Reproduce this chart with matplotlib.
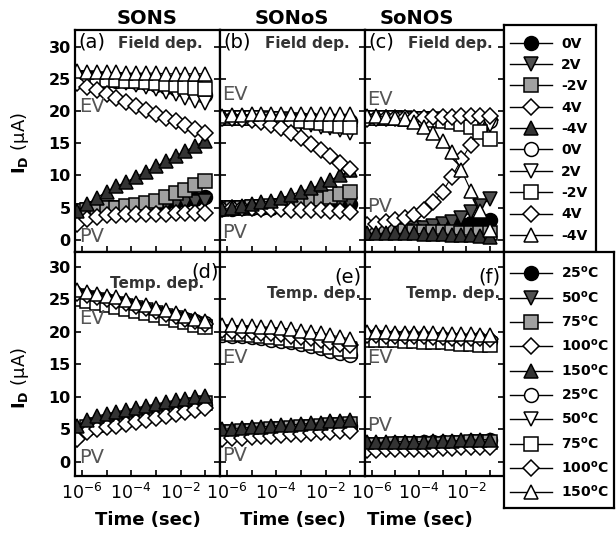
import numpy as np
import matplotlib
matplotlib.use('Agg')
import matplotlib.pyplot as plt
from matplotlib.lines import Line2D

# time points (log10 of seconds)
t_exp = [-6.2, -5.8, -5.4, -5.0, -4.6, -4.2, -3.8, -3.4, -3.0, -2.6, -2.2, -1.8, -1.4, -1.0]

# (a) SONS, field dependence
a_pv_0v = [4.5, 4.7, 4.8, 5.0, 5.0, 5.1, 5.2, 5.4, 5.6, 5.8, 6.0, 6.2, 6.4, 6.6]
a_pv_2v = [4.5, 4.6, 4.8, 4.9, 5.0, 5.0, 5.1, 5.2, 5.3, 5.4, 5.6, 5.7, 5.9, 6.0]
a_pv_m2v = [4.5, 4.6, 4.8, 4.9, 5.0, 5.2, 5.4, 5.7, 6.1, 6.6, 7.2, 7.8, 8.5, 9.2]
a_pv_4v = [2.5, 3.3, 3.6, 3.8, 3.9, 4.0, 4.0, 4.0, 4.0, 4.0, 4.1, 4.1, 4.1, 4.2]
a_pv_m4v = [4.5, 5.5, 6.5, 7.5, 8.3, 9.0, 9.8, 10.6, 11.4, 12.2, 13.0, 13.8, 14.6, 15.4]
a_ev_0v = [25.0, 25.0, 24.9, 24.8, 24.7, 24.6, 24.5, 24.3, 24.1, 23.8, 23.5, 23.2, 22.9, 22.5]
a_ev_2v = [25.2, 25.1, 25.0, 24.8, 24.6, 24.4, 24.1, 23.8, 23.4, 23.0, 22.6, 22.1, 21.6, 21.2]
a_ev_m2v = [25.0, 25.0, 24.9, 24.9, 24.8, 24.7, 24.6, 24.5, 24.4, 24.2, 24.0, 23.8, 23.6, 23.4]
a_ev_4v = [24.3, 23.8, 23.2, 22.6, 22.0, 21.4, 20.8, 20.2, 19.6, 19.0, 18.4, 17.8, 17.2, 16.6]
a_ev_m4v = [26.2, 26.1, 26.0, 26.0, 26.0, 25.9, 25.9, 25.9, 25.9, 25.8, 25.8, 25.8, 25.8, 25.8]

# (b) SONoS, field dependence
b_pv_0v = [4.8, 4.8, 4.9, 4.9, 5.0, 5.0, 5.1, 5.1, 5.2, 5.2, 5.3, 5.3, 5.4, 5.5]
b_pv_2v = [5.0, 5.0, 5.0, 5.1, 5.1, 5.1, 5.2, 5.2, 5.3, 5.3, 5.4, 5.4, 5.5, 5.5]
b_pv_m2v = [4.9, 5.0, 5.0, 5.1, 5.1, 5.2, 5.3, 5.5, 5.7, 6.0, 6.3, 6.7, 7.1, 7.5]
b_pv_4v = [4.8, 4.9, 4.9, 4.9, 4.8, 4.8, 4.8, 4.7, 4.7, 4.6, 4.6, 4.5, 4.4, 4.3]
b_pv_m4v = [4.8, 5.0, 5.2, 5.5, 5.8, 6.1, 6.5, 7.0, 7.5, 8.0, 8.6, 9.3, 10.0, 10.8]
b_ev_0v = [19.0, 19.0, 19.0, 18.9, 18.9, 18.9, 18.8, 18.8, 18.7, 18.7, 18.6, 18.6, 18.5, 18.5]
b_ev_2v = [19.0, 19.0, 18.9, 18.9, 18.8, 18.7, 18.6, 18.4, 18.2, 17.9, 17.6, 17.3, 17.0, 16.6]
b_ev_m2v = [19.0, 19.0, 19.0, 18.9, 18.9, 18.8, 18.7, 18.6, 18.5, 18.3, 18.1, 17.9, 17.7, 17.5]
b_ev_4v = [19.0, 18.9, 18.8, 18.6, 18.3, 17.9, 17.3, 16.6, 15.8, 14.9, 14.0, 13.0, 12.0, 11.0]
b_ev_m4v = [19.3, 19.4, 19.4, 19.5, 19.5, 19.5, 19.5, 19.5, 19.5, 19.5, 19.5, 19.5, 19.5, 19.5]

# (c) SoNOS, field dependence
c_pv_0v = [1.6, 1.6, 1.7, 1.7, 1.8, 1.8, 1.9, 2.0, 2.1, 2.2, 2.4, 2.6, 2.8, 3.0]
c_pv_2v = [1.5, 1.5, 1.6, 1.6, 1.7, 1.8, 1.9, 2.1, 2.4, 2.8, 3.4, 4.3, 5.3, 6.3]
c_pv_m2v = [1.3, 1.3, 1.3, 1.3, 1.3, 1.2, 1.2, 1.2, 1.2, 1.2, 1.1, 1.1, 1.1, 1.0]
c_pv_4v = [2.3, 2.5, 2.7, 3.0, 3.4, 3.9, 4.7, 5.8, 7.5, 9.8, 12.5, 14.8, 17.0, 18.6]
c_pv_m4v = [1.0, 1.0, 1.0, 1.0, 1.0, 1.0, 0.9, 0.9, 0.9, 0.8, 0.8, 0.7, 0.6, 0.5]
c_ev_0v = [19.0, 19.0, 19.0, 19.0, 18.9, 18.9, 18.9, 18.8, 18.8, 18.7, 18.7, 18.6, 18.6, 18.5]
c_ev_2v = [19.0, 19.0, 18.9, 18.9, 18.9, 18.8, 18.8, 18.7, 18.6, 18.5, 18.4, 18.2, 18.0, 17.8]
c_ev_m2v = [19.0, 19.0, 18.9, 18.9, 18.8, 18.8, 18.7, 18.6, 18.5, 18.3, 18.0, 17.5, 16.7, 15.6]
c_ev_4v = [18.8, 18.9, 18.9, 18.9, 19.0, 19.0, 19.0, 19.1, 19.1, 19.1, 19.2, 19.2, 19.3, 19.3]
c_ev_m4v = [19.2, 19.2, 19.1, 19.0, 18.8, 18.3, 17.6, 16.6, 15.3, 13.6, 10.8, 7.6, 4.4, 1.5]

# (d) SONS, temperature dependence
d_pv_25 = [4.0, 5.0, 5.5, 5.8, 6.0, 6.3, 6.6, 6.9, 7.2, 7.5, 7.8, 8.1, 8.4, 8.7]
d_pv_50 = [3.3, 4.5, 5.0, 5.3, 5.6, 5.9, 6.2, 6.5, 6.8, 7.1, 7.4, 7.7, 8.0, 8.4]
d_pv_75 = [4.5, 5.3, 5.7, 6.0, 6.3, 6.6, 6.9, 7.2, 7.5, 7.8, 8.1, 8.5, 8.8, 9.1]
d_pv_100 = [3.5, 4.5, 5.0, 5.3, 5.5, 5.8, 6.1, 6.4, 6.7, 7.0, 7.3, 7.6, 7.9, 8.3]
d_pv_150 = [5.5, 6.5, 7.0, 7.4, 7.7, 8.0, 8.3, 8.6, 8.9, 9.2, 9.5, 9.7, 9.9, 10.1]
d_ev_25 = [25.3, 25.0, 24.8, 24.5, 24.2, 23.9, 23.6, 23.3, 23.0, 22.6, 22.3, 22.0, 21.6, 21.3]
d_ev_50 = [25.5, 25.2, 24.9, 24.6, 24.3, 24.0, 23.7, 23.3, 22.9, 22.5, 22.1, 21.6, 21.2, 20.7]
d_ev_75 = [25.0, 24.7, 24.4, 24.1, 23.8, 23.5, 23.2, 22.9, 22.6, 22.2, 21.9, 21.5, 21.1, 20.8]
d_ev_100 = [26.0, 25.7, 25.4, 25.1, 24.8, 24.4, 24.0, 23.6, 23.2, 22.8, 22.4, 22.0, 21.6, 21.2]
d_ev_150 = [26.5, 26.2, 25.9, 25.6, 25.3, 24.9, 24.5, 24.1, 23.7, 23.3, 22.9, 22.5, 22.0, 21.6]

# (e) SONoS, temperature dependence
e_pv_25 = [4.2, 4.3, 4.4, 4.5, 4.6, 4.7, 4.8, 4.9, 5.0, 5.1, 5.2, 5.3, 5.4, 5.5]
e_pv_50 = [3.8, 3.9, 4.0, 4.1, 4.2, 4.3, 4.4, 4.5, 4.6, 4.7, 4.8, 4.9, 5.0, 5.1]
e_pv_75 = [4.5, 4.6, 4.7, 4.8, 4.9, 5.0, 5.1, 5.2, 5.3, 5.4, 5.5, 5.6, 5.7, 5.8]
e_pv_100 = [3.5, 3.6, 3.7, 3.8, 3.9, 4.0, 4.1, 4.2, 4.3, 4.4, 4.5, 4.6, 4.7, 4.8]
e_pv_150 = [5.0, 5.1, 5.2, 5.3, 5.4, 5.5, 5.6, 5.7, 5.8, 5.9, 6.0, 6.2, 6.3, 6.5]
e_ev_25 = [19.5, 19.4, 19.3, 19.2, 19.0, 18.8, 18.6, 18.4, 18.1, 17.8, 17.5, 17.1, 16.8, 16.4]
e_ev_50 = [20.0, 19.9, 19.8, 19.7, 19.5, 19.3, 19.1, 18.9, 18.7, 18.5, 18.2, 17.9, 17.6, 17.3]
e_ev_75 = [19.8, 19.7, 19.6, 19.5, 19.4, 19.2, 19.0, 18.8, 18.6, 18.3, 18.0, 17.7, 17.4, 17.1]
e_ev_100 = [20.3, 20.2, 20.1, 20.0, 19.9, 19.8, 19.6, 19.4, 19.2, 19.0, 18.8, 18.5, 18.2, 17.9]
e_ev_150 = [21.0, 21.0, 20.9, 20.9, 20.8, 20.7, 20.6, 20.4, 20.2, 20.0, 19.8, 19.5, 19.2, 18.9]

# (f) SoNOS, temperature dependence
f_pv_25 = [2.8, 2.8, 2.8, 2.9, 2.9, 2.9, 3.0, 3.0, 3.0, 3.1, 3.1, 3.2, 3.2, 3.3]
f_pv_50 = [2.3, 2.3, 2.4, 2.4, 2.4, 2.5, 2.5, 2.5, 2.6, 2.6, 2.7, 2.7, 2.8, 2.8]
f_pv_75 = [2.6, 2.6, 2.6, 2.7, 2.7, 2.7, 2.8, 2.8, 2.8, 2.9, 2.9, 3.0, 3.0, 3.0]
f_pv_100 = [1.8, 1.8, 1.9, 1.9, 1.9, 2.0, 2.0, 2.0, 2.1, 2.1, 2.2, 2.2, 2.3, 2.3]
f_pv_150 = [3.0, 3.0, 3.0, 3.1, 3.1, 3.1, 3.1, 3.2, 3.2, 3.2, 3.3, 3.3, 3.4, 3.4]
f_ev_25 = [19.2, 19.2, 19.1, 19.1, 19.0, 19.0, 18.9, 18.9, 18.8, 18.8, 18.7, 18.7, 18.6, 18.6]
f_ev_50 = [19.0, 19.0, 18.9, 18.9, 18.8, 18.8, 18.7, 18.7, 18.6, 18.5, 18.5, 18.4, 18.3, 18.2]
f_ev_75 = [18.8, 18.8, 18.7, 18.7, 18.6, 18.6, 18.5, 18.5, 18.4, 18.3, 18.2, 18.1, 18.0, 17.9]
f_ev_100 = [19.5, 19.5, 19.4, 19.4, 19.4, 19.3, 19.3, 19.2, 19.2, 19.1, 19.1, 19.0, 19.0, 18.9]
f_ev_150 = [20.0, 20.0, 20.0, 19.9, 19.9, 19.9, 19.8, 19.8, 19.7, 19.7, 19.6, 19.6, 19.5, 19.5]

field_labels = ['0V', '2V', '-2V', '4V', '-4V', '0V', '2V', '-2V', '4V', '-4V']
temp_values = ['25', '50', '75', '100', '150', '25', '50', '75', '100', '150']
column_titles = ['SONS', 'SONoS', 'SoNOS']

markers = ['o', 'v', 's', 'D', '^', 'o', 'v', 's', 'D', '^']
faces = ['black', '#505050', '#a0a0a0', 'white', '#333333',
         'white', 'white', 'white', 'white', 'white']

panels = [
    [a_pv_0v, a_pv_2v, a_pv_m2v, a_pv_4v, a_pv_m4v, a_ev_0v, a_ev_2v, a_ev_m2v, a_ev_4v, a_ev_m4v],
    [b_pv_0v, b_pv_2v, b_pv_m2v, b_pv_4v, b_pv_m4v, b_ev_0v, b_ev_2v, b_ev_m2v, b_ev_4v, b_ev_m4v],
    [c_pv_0v, c_pv_2v, c_pv_m2v, c_pv_4v, c_pv_m4v, c_ev_0v, c_ev_2v, c_ev_m2v, c_ev_4v, c_ev_m4v],
    [d_pv_25, d_pv_50, d_pv_75, d_pv_100, d_pv_150, d_ev_25, d_ev_50, d_ev_75, d_ev_100, d_ev_150],
    [e_pv_25, e_pv_50, e_pv_75, e_pv_100, e_pv_150, e_ev_25, e_ev_50, e_ev_75, e_ev_100, e_ev_150],
    [f_pv_25, f_pv_50, f_pv_75, f_pv_100, f_pv_150, f_ev_25, f_ev_50, f_ev_75, f_ev_100, f_ev_150],
]

time_s = 10.0 ** np.array(t_exp)

W, H = 616, 535
fig = plt.figure(figsize=(W / 100, H / 100), dpi=100)


def box(x0, y0, x1, y1):
    # pixel box (top-left origin) -> figure fraction
    return [x0 / W, 1 - y1 / H, (x1 - x0) / W, (y1 - y0) / H]


col_px = [(75, 220), (220, 365), (365, 504)]
row_px = [(30, 252), (252, 476)]
ylims = [(-1.9, 32.6), (-2.2, 32.3)]

axes = []
for r in range(2):
    for c in range(3):
        ax = fig.add_axes(box(col_px[c][0], row_px[r][0], col_px[c][1], row_px[r][1]))
        axes.append(ax)

for i, ax in enumerate(axes):
    r = i // 3
    data = panels[i]
    for k in range(10):
        ms = 8.5 if markers[k] == 'D' else 10
        ax.plot(time_s, data[k], color='black', lw=0.8, marker=markers[k], ms=ms,
                mfc=faces[k], mec='black', mew=1.1)
    ax.set_xscale('log')
    ax.set_xlim(10 ** -6.28, 10 ** -0.4)
    ax.set_ylim(*ylims[r])
    ax.set_yticks([0, 5, 10, 15, 20, 25, 30])
    ax.set_xticks([1e-6, 1e-5, 1e-4, 1e-3, 1e-2, 1e-1])
    ax.minorticks_off()
    ax.tick_params(direction='in', length=4, width=1.2, left=True, right=True,
                   bottom=True, top=False)
    for s in ax.spines.values():
        s.set_linewidth(1.6)
    if i % 3 == 0:
        ax.set_yticklabels([str(v) for v in [0, 5, 10, 15, 20, 25, 30]],
                           fontsize=11.5, fontweight='bold')
        ax.tick_params(axis='y', pad=3)
    else:
        ax.set_yticklabels([])
    if r == 1:
        ax.set_xticklabels(['$10^{-6}$', '', '$10^{-4}$', '', '$10^{-2}$', ''], fontsize=12.5)
        ax.tick_params(axis='x', pad=5)
    else:
        ax.set_xticklabels([])

# column titles
title_x = [147, 292, 417]
for c in range(3):
    fig.text(title_x[c] / W, 1 - 18 / H, column_titles[c], fontsize=14,
             fontweight='bold', ha='center', va='center')

# x labels
xlabel_x = [148, 293, 420]
for c in range(3):
    fig.text(xlabel_x[c] / W, 1 - 520 / H, 'Time (sec)', fontsize=13,
             fontweight='bold', ha='center', va='center')

# y labels
for yc in [143, 378]:
    fig.text(20 / W, 1 - yc / H, r'$\mathbf{I_D}$ ($\mathregular{\mu}$A)', fontsize=13,
             rotation=90, ha='center', va='center')

# panel tags
for c, tag in enumerate(['(a)', '(b)', '(c)']):
    ax = axes[c]
    ax.text(0.025, 0.919, tag, transform=ax.transAxes, fontsize=14, va='baseline', ha='left')
    fx = [0.30, 0.31, 0.31][c]
    ax.text(fx, 0.919, 'Field dep.', transform=ax.transAxes, fontsize=11,
            fontweight='bold', color='#333333', va='baseline', ha='left')

axes[3].text(0.99, 0.885, '(d)', transform=axes[3].transAxes, fontsize=14, va='baseline', ha='right')
axes[3].text(0.89, 0.838, 'Temp. dep.', transform=axes[3].transAxes, fontsize=11,
             fontweight='bold', color='#333333', va='baseline', ha='right')
for i, tag in [(4, '(e)'), (5, '(f)')]:
    ax = axes[i]
    ax.text(0.975, 0.866, tag, transform=ax.transAxes, fontsize=14, va='baseline', ha='right')
    ax.text(0.975, 0.795, 'Temp. dep.', transform=ax.transAxes, fontsize=11,
            fontweight='bold', color='#333333', va='baseline', ha='right')

# EV / PV labels
ev_y = [20.7, 22.5, 21.8, 22.1, 16.1, 16.1]
pv_y = [0.5, 1.1, 5.1, 0.7, 1.0, 5.6]
for i, ax in enumerate(axes):
    x0 = 0.03 if i % 3 == 0 else 0.015
    ax.text(x0, ev_y[i], 'EV', fontsize=14, color='#555555', va='center', ha='left')
    ax.text(x0, pv_y[i], 'PV', fontsize=14, color='#555555', va='center', ha='left')
    for t in ax.texts[-2:]:
        t.set_transform(ax.get_yaxis_transform())

# legend boxes
temp_labels = [v + r'$^{\mathbf{o}}$C' for v in temp_values]
leg_specs = [
    (box(504, 25, 596, 252), field_labels, 0.065, 0.495, 0.53),
    (box(504, 252, 614, 508), temp_labels, 0.055, 0.49, 0.6),
]
for rect, labels, lx, ly, lsp in leg_specs:
    lg = fig.add_axes(rect)
    lg.set_xticks([])
    lg.set_yticks([])
    for s in lg.spines.values():
        s.set_linewidth(1.6)
    handles = []
    for k in range(10):
        ms = 8.5 if markers[k] == 'D' else 10
        handles.append(Line2D([], [], color='black', lw=1.0, marker=markers[k], ms=ms,
                              mfc=faces[k], mec='black', mew=1.1))
    leg = lg.legend(handles, labels, loc='center left', bbox_to_anchor=(lx, ly),
                    frameon=False, borderpad=0, borderaxespad=0, handlelength=3.0,
                    handletextpad=0.7, labelspacing=lsp, prop={'size': 10, 'weight': 'bold'})

fig.savefig('out.png', dpi=100)
